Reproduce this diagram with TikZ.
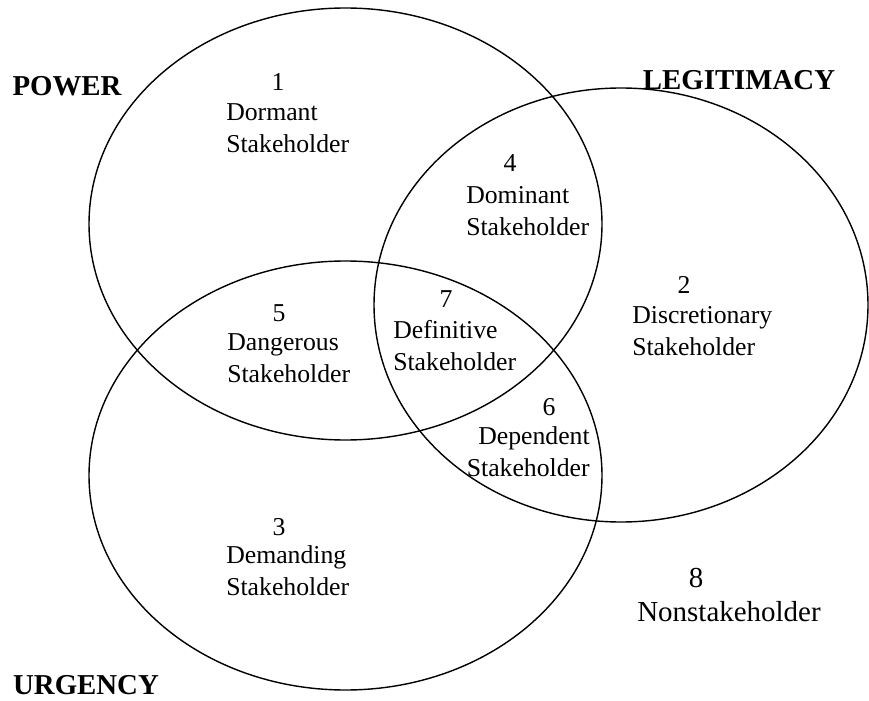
\documentclass[tikz,border=0pt]{standalone}
\usepackage{fontspec}
\setmainfont{Liberation Serif}
\usepackage{tikz}

\tikzset{
  venn/.style={line width=1pt},
  txt/.style={font=\fontsize{18.3}{22.8}\selectfont, inner sep=0pt},
  lbl/.style={txt, align=left, anchor=west},
  lblr/.style={txt, align=right, anchor=east},
  head/.style={font=\bfseries\fontsize{20.5}{24}\selectfont, inner sep=0pt}
}

\begin{document}
\begin{tikzpicture}[x=0.025cm,y=0.025cm]
\useasboundingbox (0,0) rectangle (869,700);

% Attribute ellipses
\draw[venn] (345.5,476) ellipse [x radius=256.5, y radius=216];
\draw[venn] (621,395) ellipse [x radius=247, y radius=217];
\draw[venn] (345.5,224.5) ellipse [x radius=256.5, y radius=214.5];

% Attribute names
\node[head] (power) at (67,614) {POWER};
\node[head] (legit) at (739,620) {LEGITIMACY};
\node[head] (urgency) at (86,15) {URGENCY};

% Stakeholder classes
\node[txt] (n1) at (278,618) {1};
\node[lbl] (s1) at (226,572) {Dormant\\Stakeholder};

\node[txt] (n2) at (684,415) {2};
\node[lbl] (s2) at (632,369) {Discretionary\\Stakeholder};

\node[txt] (n3) at (279,173) {3};
\node[lbl] (s3) at (226,129) {Demanding\\Stakeholder};

\node[txt] (n4) at (510,537) {4};
\node[lbl] (s4) at (466,489) {Dominant\\Stakeholder};

\node[txt] (n5) at (279,387) {5};
\node[lbl] (s5) at (227,342) {Dangerous\\Stakeholder};

\node[txt] (n6) at (549,293) {6};
\node[lblr] (s6) at (590,248) {Dependent\\Stakeholder};

\node[txt] (n7) at (446,401) {7};
\node[lbl] (s7) at (393,354) {Definitive\\Stakeholder};

% Outside all three
\node[txt, font=\fontsize{20.6}{24}\selectfont] (n8) at (696,122) {8};
\node[txt, font=\fontsize{20.6}{24}\selectfont] (s8) at (729,88) {Nonstakeholder};
\end{tikzpicture}
\end{document}
